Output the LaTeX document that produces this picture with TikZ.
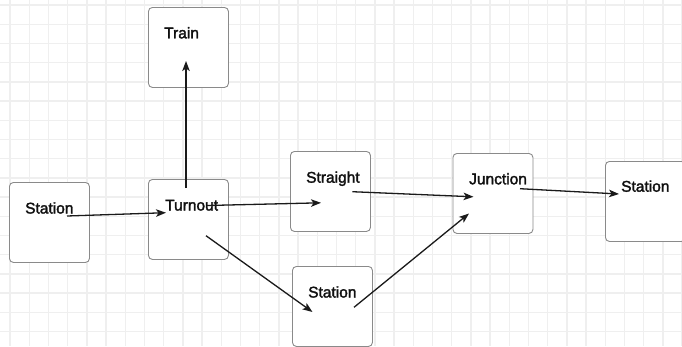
\documentclass[tikz,border=0pt]{standalone}
\usepackage{fontspec}
\setmainfont{Liberation Sans}[FakeBold=2]
\usetikzlibrary{arrows.meta}
\definecolor{gridc}{HTML}{EFEFEF}
\definecolor{boxgray}{HTML}{8A8A8A}
\definecolor{arr}{HTML}{1A1A1A}
\definecolor{txt}{HTML}{101010}
\begin{document}
\begin{tikzpicture}[x=1pt,y=-1pt,
  box/.style={draw=boxgray, fill=white, rounded corners=4pt, line width=0.9pt,
    minimum width=80pt, minimum height=80pt, inner sep=0pt, anchor=north west},
  lbl/.style={anchor=base west, inner sep=0pt, text=txt,
    font=\fontsize{15.5}{18}\selectfont},
  link/.style={line width=1.3pt, draw=arr,
    -{Stealth[length=10pt,width=7.5pt,inset=2.5pt]}}]
  % canvas and grid
  \useasboundingbox (0,0) rectangle (682,346);
  \clip (0,0) rectangle (682,346);
  \fill[white] (0,0) rectangle (682,346);
  \foreach \i in {0,...,35}
    \draw[gridc, line width=1.4pt] ({10+19.2*\i},0) -- ++(0,346);
  \foreach \j in {0,...,18}
    \draw[gridc, line width=1.4pt] (0,{5+19.2*\j}) -- ++(682,0);

  % boxes
  \node[box] (st1) at (9,182) {};
  \node[box] (tur) at (148,179) {};
  \node[box] (trn) at (148,7) {};
  \node[box] (str) at (290,151) {};
  \node[box] (jun) at (452.5,153) {};
  \node[box] (st2) at (292,266) {};
  \node[box] (st3) at (605,161) {};

  % labels
  \node[lbl] (st1l) at (25,213.5) {Station};
  \node[lbl] (turl) at (165,210.5) {Turnout};
  \node[lbl] (trnl) at (164,38.3) {Train};
  \node[lbl] (strl) at (306,182.7) {Straight};
  \node[lbl] (junl) at (469,184.3) {Junction};
  \node[lbl] (st2l) at (308,297.5) {Station};
  \node[lbl] (st3l) at (621,191.7) {Station};

  % connector end points
  \coordinate (st1-out) at (67,216);
  \coordinate (tur-in)  at (166,212.7);
  \coordinate (tur-up)  at (186,188);
  \coordinate (trn-in)  at (186,61);
  \coordinate (tur-r)   at (207,205.5);
  \coordinate (str-in)  at (321,202.8);
  \coordinate (tur-dn)  at (206,235.7);
  \coordinate (st2-in)  at (312.5,312);
  \coordinate (str-out) at (352.3,191.7);
  \coordinate (jun-in1) at (473.5,196.8);
  \coordinate (st2-out) at (354,307.3);
  \coordinate (jun-in2) at (469,213.5);
  \coordinate (jun-out) at (520,188.7);
  \coordinate (st3-in)  at (619,194);

  % connectors
  \draw[link] (st1-out) -- (tur-in);
  \draw[link] (tur-up) -- (trn-in);
  \draw[link] (tur-r) -- (str-in);
  \draw[link] (tur-dn) -- (st2-in);
  \draw[link] (str-out) -- (jun-in1);
  \draw[link] (st2-out) -- (jun-in2);
  \draw[link] (jun-out) -- (st3-in);
\end{tikzpicture}
\end{document}
